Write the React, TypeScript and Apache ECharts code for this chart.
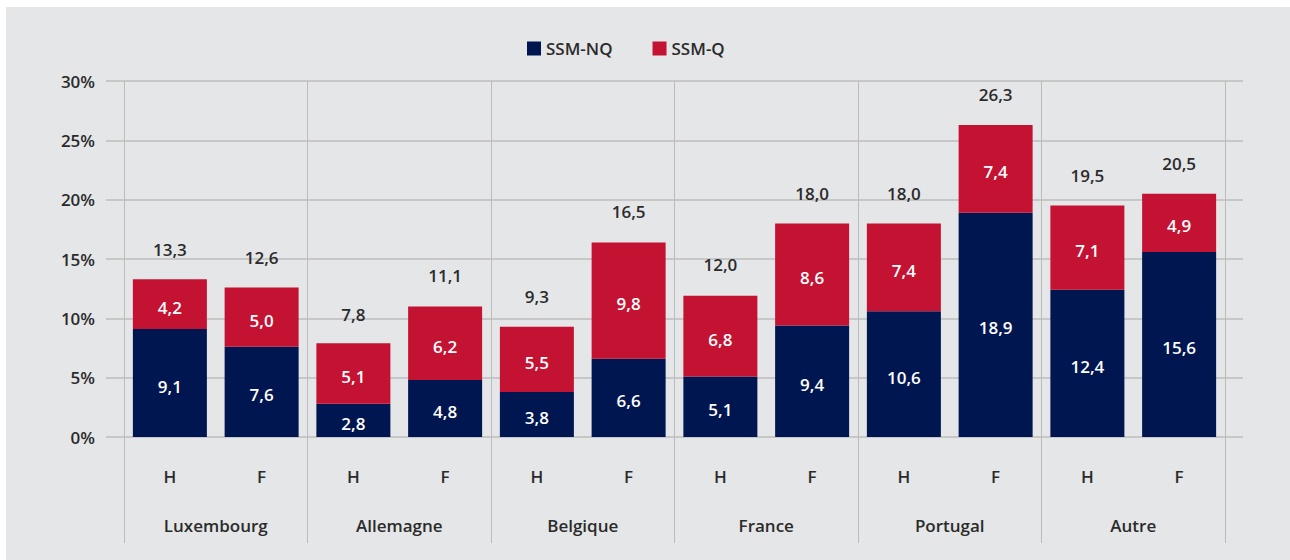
import React, { useEffect, useRef } from "react";
import * as echarts from "echarts";

const categories = ["H", "F", "H", "F", "H", "F", "H", "F", "H", "F", "H", "F"];
const groups = ["Luxembourg", "Allemagne", "Belgique", "France", "Portugal", "Autre"];
const ssmNQ = [9.1, 7.6, 2.8, 4.8, 3.8, 6.6, 5.1, 9.4, 10.6, 18.9, 12.4, 15.6];
const ssmQ = [4.2, 5.0, 5.1, 6.2, 5.5, 9.8, 6.8, 8.6, 7.4, 7.4, 7.1, 4.9];
const totals = [13.3, 12.6, 7.8, 11.1, 9.3, 16.5, 12.0, 18.0, 18.0, 26.3, 19.5, 20.5];
const seriesNames = ["SSM-NQ", "SSM-Q"];

const NAVY = "#001650";
const RED = "#c41232";
const TEXT = "#2b2b2b";
const GRID = "#bcbcbc";
const FONT = "'Open Sans', 'Noto Sans', sans-serif";

const fmt = (v: number) => v.toFixed(1).replace(".", ",");

export default function App() {
  const ref = useRef<HTMLDivElement>(null);
  useEffect(() => {
    if (!ref.current) return;
    const chart = echarts.init(ref.current, undefined, { renderer: "svg" });
    const barLabel = {
      show: true,
      position: "inside",
      offset: [0, 3],
      formatter: (p: any) => fmt(p.value),
      fontFamily: FONT,
      fontSize: 17,
      fontWeight: 600,
      color: "#ffffff",
    };
    chart.setOption({
      animation: false,
      backgroundColor: "#e5e6e8",
      textStyle: { fontFamily: FONT },
      legend: {
        data: seriesNames,
        left: 516,
        top: 28,
        itemWidth: 14,
        itemHeight: 14,
        itemGap: 40,
        icon: "rect",
        textStyle: { fontFamily: FONT, fontSize: 17, fontWeight: 600, color: TEXT },
      },
      grid: [
        { left: 118, right: 65, top: 74, bottom: 123 },
        { left: 100, right: 47, top: 74, bottom: 123 },
      ],
      xAxis: [
        {
          type: "category",
          gridIndex: 0,
          data: categories,
          axisLine: { show: false },
          axisTick: { show: false },
          axisLabel: { margin: 31, fontFamily: FONT, fontSize: 17, fontWeight: 600, color: TEXT },
        },
        {
          type: "category",
          gridIndex: 0,
          position: "bottom",
          data: groups,
          axisLine: { show: false },
          axisTick: { show: true, length: 106, interval: 0, lineStyle: { color: GRID, width: 1 } },
          splitLine: { show: true, interval: 0, lineStyle: { color: GRID, width: 1 } },
          axisLabel: { margin: 80, interval: 0, fontFamily: FONT, fontSize: 17, fontWeight: 600, color: TEXT },
        },
        { type: "value", gridIndex: 1, min: 0, max: 1, show: false },
      ],
      yAxis: [
        { type: "value", gridIndex: 0, min: 0, max: 30, interval: 5, show: false, splitLine: { show: false } },
        {
          type: "value",
          gridIndex: 1,
          min: 0,
          max: 30,
          interval: 5,
          axisLine: { show: false },
          axisTick: { show: false },
          splitLine: { show: true, lineStyle: { color: GRID, width: 1.5 } },
          axisLabel: {
            margin: 11,
            formatter: (v: number) => v + "%",
            fontFamily: FONT,
            fontSize: 17,
            fontWeight: 600,
            color: TEXT,
          },
        },
      ],
      series: [
        {
          name: seriesNames[0],
          type: "bar",
          stack: "s",
          xAxisIndex: 0,
          yAxisIndex: 0,
          barWidth: 74,
          data: ssmNQ,
          itemStyle: { color: NAVY },
          label: barLabel,
        },
        {
          name: seriesNames[1],
          type: "bar",
          stack: "s",
          xAxisIndex: 0,
          yAxisIndex: 0,
          barWidth: 74,
          data: ssmQ,
          itemStyle: { color: RED },
          label: barLabel,
        },
        {
          name: "Total",
          type: "scatter",
          xAxisIndex: 0,
          yAxisIndex: 0,
          data: totals,
          symbolSize: 1,
          itemStyle: { color: "rgba(0,0,0,0)", opacity: 1 },
          silent: true,
          z: 5,
          label: {
            show: true,
            position: "top",
            distance: 21,
            opacity: 1,
            formatter: (p: any) => fmt(p.value),
            fontFamily: FONT,
            fontSize: 17,
            fontWeight: 600,
            color: TEXT,
            textBorderWidth: 0,
          },
        },
      ],
    });
    return () => chart.dispose();
  }, []);
  return (
    <div
      ref={ref}
      style={{ position: "absolute", left: 6, top: 7, width: 1284, height: 553 }}
    />
  );
}
